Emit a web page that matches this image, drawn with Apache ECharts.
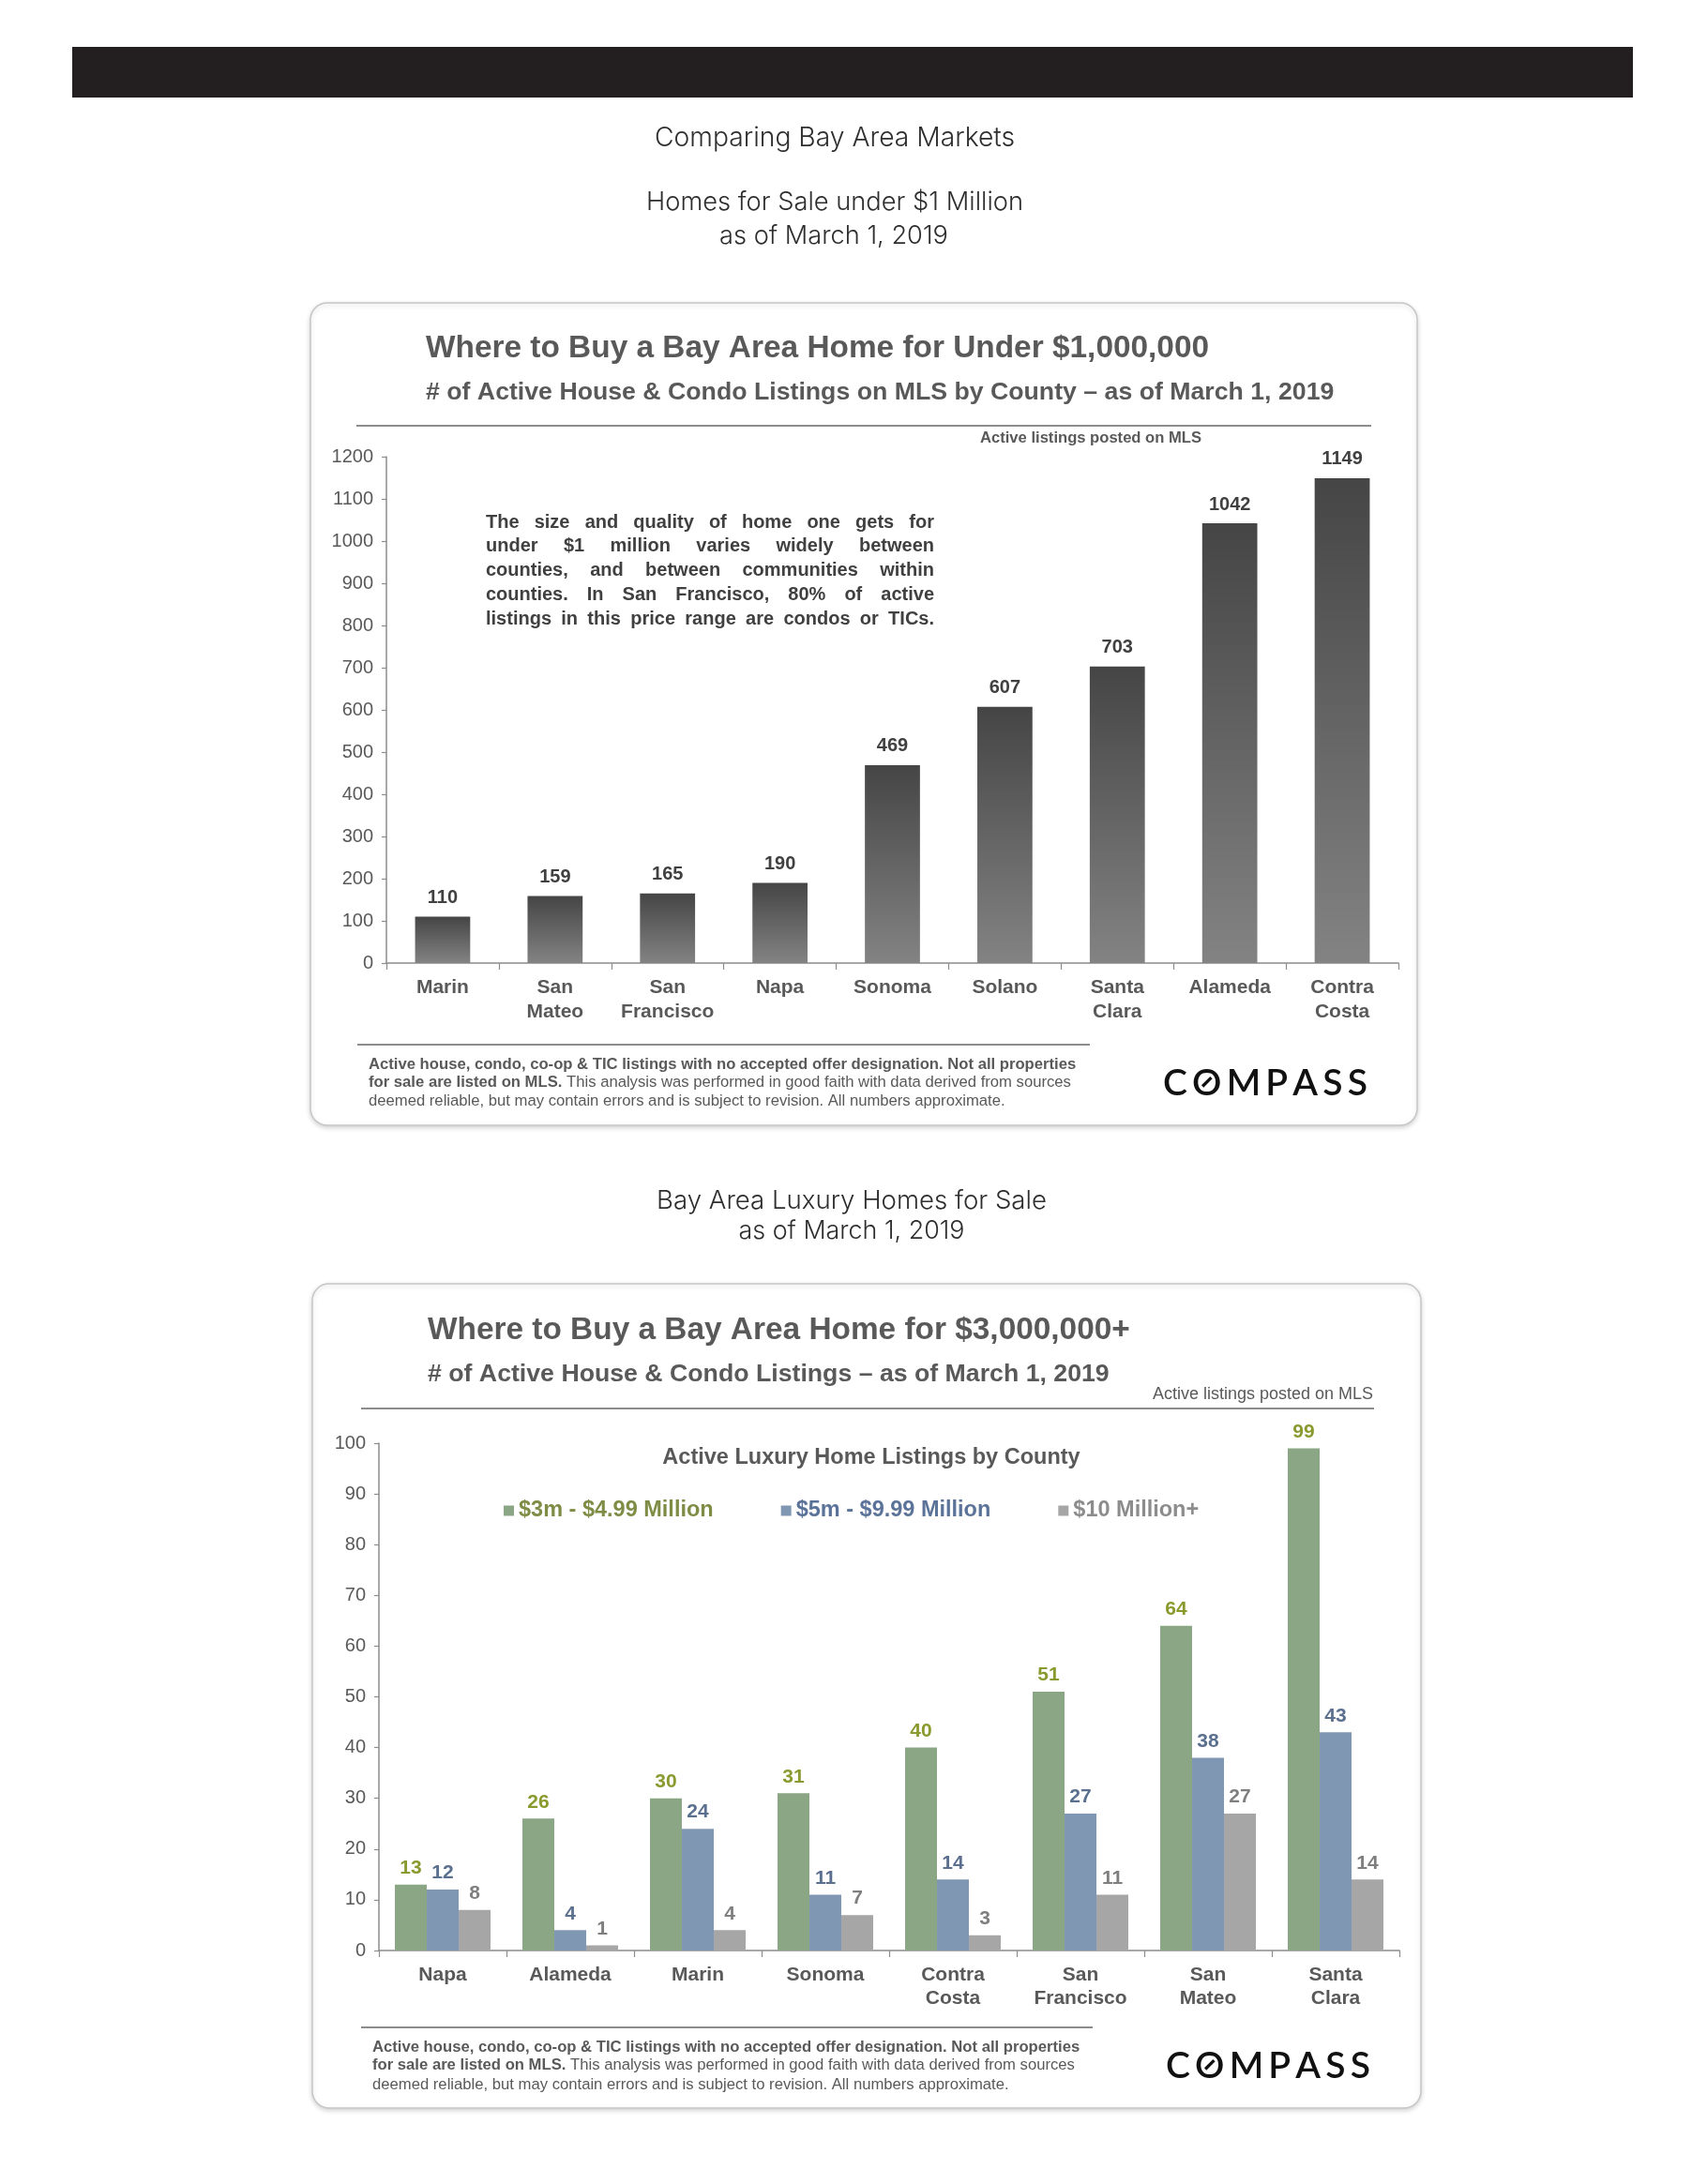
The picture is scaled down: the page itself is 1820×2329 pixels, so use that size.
<!DOCTYPE html>
<html><head><meta charset="utf-8">
<script src="https://cdn.jsdelivr.net/npm/echarts/dist/echarts.min.js"></script>
<style>html,body{margin:0;padding:0;background:#fff;}#c{width:1820px;height:2329px;}</style>
</head><body><div id="c"></div>
<script>
// ---------- DATA ----------
const under1mCounties = ['Marin','San Mateo','San Francisco','Napa','Sonoma','Solano','Santa Clara','Alameda','Contra Costa'];
const under1mListings = [110,159,165,190,469,607,703,1042,1149];
const under1mAxis = {min:0, max:1200, interval:100};

const luxuryCounties = ['Napa','Alameda','Marin','Sonoma','Contra Costa','San Francisco','San Mateo','Santa Clara'];
const luxurySeriesNames = ['$3m - $4.99 Million','$5m - $9.99 Million','$10 Million+'];
const lux3to5 = [13,26,30,31,40,51,64,99];
const lux5to10 = [12,4,24,11,14,27,38,43];
const lux10plus = [8,1,4,7,3,11,27,14];
const luxuryAxis = {min:0, max:100, interval:10};

// ---------- TEXT ----------
const pageHeadings1 = ['Comparing Bay Area Markets','Homes for Sale under $1 Million','as of March 1, 2019'];
const pageHeadings2 = ['Bay Area Luxury Homes for Sale','as of March 1, 2019'];
const title1 = 'Where to Buy a Bay Area Home for Under $1,000,000';
const subtitle1 = '# of Active House & Condo Listings on MLS by County \u2013 as of March 1, 2019';
const title2 = 'Where to Buy a Bay Area Home for $3,000,000+';
const subtitle2 = '# of Active House & Condo Listings \u2013 as of March 1, 2019';
const mlsNote = 'Active listings posted on MLS';
const legendTitle = 'Active Luxury Home Listings by County';
const noteLines = ['The size and quality of home one gets for','under $1 million varies widely between','counties, and between communities within','counties. In San Francisco, 80% of active','listings in this price range are condos or TICs.'];
const foot1 = 'Active house, condo, co-op & TIC listings with no accepted offer designation. Not all properties';
const foot2b = 'for sale are listed on MLS.';
const foot2r = ' This analysis was performed in good faith with data derived from sources';
const foot3 = 'deemed reliable, but may contain errors and is subject to revision. All numbers approximate.';
const logoText = 'COMPASS';

// ---------- HELPERS ----------
const ARIAL = "'Liberation Sans', Arial, Helvetica, sans-serif";
const HEADF = "Inter, 'Noto Sans', sans-serif";
const LOGOF = "Lato, 'Noto Sans', sans-serif";
const mctx = document.createElement('canvas').getContext('2d');
function textW(t, font){ mctx.font = font; return mctx.measureText(t).width; }
function fitSize(t, weight, fam, target){ return 100*target/textW(t, weight+' 100px '+fam); }
const G = [];
function txt(t, x, y, font, fill, align){
  align = align || 'left';
  G.push({type:'text', x:x, y:y, z:5, silent:true,
    style:{text:t, font:font, fill:fill, textAlign:align, align:align, textVerticalAlign:'middle', verticalAlign:'middle'}});
}
function hline(x1,y1,x2,y2,stroke,w){ G.push({type:'line', z:4, silent:true, shape:{x1:x1,y1:y1,x2:x2,y2:y2}, style:{stroke:stroke, lineWidth:w}}); }
function rect(x,y,w,h,style,r,z){ G.push({type:'rect', z:z, silent:true, shape:{x:x,y:y,width:w,height:h,r:r||0}, style:style}); }

function justify(lines, x0, x1, y0, lh, font, fill){
  lines.forEach(function(ln, i){
    const words = ln.split(' ');
    const ws = words.map(function(w){ return textW(w, font); });
    const tot = ws.reduce(function(a,b){return a+b;},0);
    const gap = (x1 - x0 - tot)/(words.length-1);
    let x = x0;
    words.forEach(function(w, j){ txt(w, x, y0 + i*lh, font, fill); x += ws[j] + gap; });
  });
}
function footer(x, ys, lineY, lineX2){
  hline(x-12, lineY, lineX2, lineY, '#8c8c8c', 2);
  const fs = fitSize(foot1, 'bold', ARIAL, 755);
  const fb = 'bold ' + fs.toFixed(2) + 'px ' + ARIAL;
  const fr = fs.toFixed(2) + 'px ' + ARIAL;
  txt(foot1, x, ys[0], fb, '#595959');
  txt(foot2b, x, ys[1], fb, '#595959');
  txt(foot2r, x + textW(foot2b, fb), ys[1], fr, '#595959');
  txt(foot3, x, ys[2], fr, '#595959');
}
function logo(x, y, w){
  const fs = 39;
  const f = '600 ' + fs + 'px ' + LOGOF;
  const letters = logoText.split('');
  const ws = letters.map(function(l){ return textW(l, f); });
  const tot = ws.reduce(function(a,b){return a+b;},0);
  const sp = (w - tot)/(letters.length-1);
  let cx = x;
  letters.forEach(function(l, i){
    txt(l, cx, y, f, '#111111');
    if (l === 'O') {
      const ox = cx + ws[i]/2, oy = y - 0.03*fs, d = 0.12*fs;
      hline(ox-d, oy+d, ox+d, oy-d, '#111111', 0.085*fs);
    }
    cx += ws[i] + sp;
  });
}

// ---------- PAGE ----------
rect(77, 50, 1664, 54, {fill:'#231f20'}, 0, 1);
const h1pos = [[890,147,384],[890,216,402],[889,252,244]];
pageHeadings1.forEach(function(t,i){
  const p = h1pos[i]; const fs = fitSize(t,'300',HEADF,p[2]);
  txt(t, p[0], p[1], '300 ' + fs.toFixed(2) + 'px ' + HEADF, '#2e2e2e', 'center');
});
const h2pos = [[908,1281,416],[908,1313,241]];
pageHeadings2.forEach(function(t,i){
  const p = h2pos[i]; const fs = fitSize(t,'300',HEADF,p[2]);
  txt(t, p[0], p[1], '300 ' + fs.toFixed(2) + 'px ' + HEADF, '#2e2e2e', 'center');
});

const cardStyle = {fill:'#fff', stroke:'#c6c6c6', lineWidth:1.5, shadowBlur:5, shadowColor:'rgba(0,0,0,0.16)', shadowOffsetY:2};
// card 1
rect(331, 323, 1180, 877, cardStyle, 18, -10);
txt(title1, 454, 372, 'bold 33.4px ' + ARIAL, '#595959');
txt(subtitle1, 454, 419, 'bold 26.7px ' + ARIAL, '#595959');
hline(380, 454, 1462, 454, '#8c8c8c', 2);
txt(mlsNote, 1045, 467, 'bold 16.6px ' + ARIAL, '#595959');
justify(noteLines, 518, 996, 557, 25.9, 'bold 20px ' + ARIAL, '#404040');
footer(393, [1135,1154,1174], 1114, 1162);
logo(1240, 1155, 218);

// card 2
rect(333, 1369, 1182, 879, cardStyle, 18, -10);
txt(title2, 456, 1419, 'bold 33.4px ' + ARIAL, '#595959');
txt(subtitle2, 456, 1466, 'bold 26.7px ' + ARIAL, '#595959');
txt(mlsNote, 1229, 1487, '18px ' + ARIAL, '#595959');
hline(385, 1502, 1465, 1502, '#8c8c8c', 2);
txt(legendTitle, 929, 1555, 'bold 23.5px ' + ARIAL, '#595959', 'center');
footer(397, [2183,2202,2223], 2162, 1165);
logo(1243, 2203, 218);

// ---------- CHART ----------
const chart = echarts.init(document.getElementById('c'), null, {renderer:'canvas', width:1820, height:2329});
const axisGray = '#8c8c8c';
const splitName = function(v){ return v.replace(' ', '\n'); };
function catAxis(idx, data, margin, lh){
  return {type:'category', gridIndex:idx, data:data,
    axisLine:{show:true, lineStyle:{color:axisGray, width:1.5}},
    axisTick:{show:true, length:7, lineStyle:{color:axisGray, width:1.2}},
    splitLine:{show:false},
    axisLabel:{interval:0, margin:margin, color:'#595959', fontWeight:'bold', fontSize:21, fontFamily:ARIAL, lineHeight:lh, formatter:splitName}};
}
function valAxis(idx, ax){
  return {type:'value', gridIndex:idx, min:ax.min, max:ax.max, interval:ax.interval,
    axisLine:{show:true, lineStyle:{color:axisGray, width:1.5}},
    axisTick:{show:true, length:5, lineStyle:{color:axisGray, width:1.2}},
    splitLine:{show:false},
    axisLabel:{margin:14, color:'#595959', fontSize:20, fontFamily:ARIAL, formatter:function(v){ return String(v); }}};
}
const luxColors = ['#8aa684','#8097b3','#a6a6a6'];
const luxLabelColors = ['#8a9a2e','#5b6f8f','#7f7f7f'];
const luxLegendColors = ['#7e8c45','#5c7399','#8c8c8c'];
const luxData = [lux3to5, lux5to10, lux10plus];

const option = {
  animation:false,
  backgroundColor:'#ffffff',
  graphic:{elements:G},
  legend:{
    left:532, top:1594, icon:'rect', itemWidth:11, itemHeight:11, itemGap:72, selectedMode:false,
    textStyle:{fontSize:23.5, fontWeight:'bold', fontFamily:ARIAL},
    data: luxurySeriesNames.map(function(n,i){ return {name:n, textStyle:{color:luxLegendColors[i]}}; })
  },
  grid:[
    {left:412, top:487, width:1079, height:540, containLabel:false, outerBoundsMode:'none'},
    {left:404, top:1539, width:1088, height:541, containLabel:false, outerBoundsMode:'none'}
  ],
  xAxis:[catAxis(0, under1mCounties, 13, 26), catAxis(1, luxuryCounties, 14, 25)],
  yAxis:[valAxis(0, under1mAxis), valAxis(1, luxuryAxis)],
  series:[
    {type:'bar', name:'Active listings', xAxisIndex:0, yAxisIndex:0, data:under1mListings, barCategoryGap:'51%', silent:true,
     itemStyle:{color:new echarts.graphic.LinearGradient(0,0,0,1,[{offset:0,color:'#454545'},{offset:1,color:'#838383'}])},
     label:{show:true, position:'top', distance:10, color:'#404040', fontWeight:'bold', fontSize:20, fontFamily:ARIAL}}
  ].concat(luxurySeriesNames.map(function(n,i){
    return {type:'bar', name:n, xAxisIndex:1, yAxisIndex:1, data:luxData[i], barGap:'0%', barCategoryGap:'25%', silent:true,
      itemStyle:{color:luxColors[i]},
      label:{show:true, position:'top', distance:7, color:luxLabelColors[i], fontWeight:'bold', fontSize:21, fontFamily:ARIAL}};
  }))
};
chart.setOption(option);
</script>
</body></html>
